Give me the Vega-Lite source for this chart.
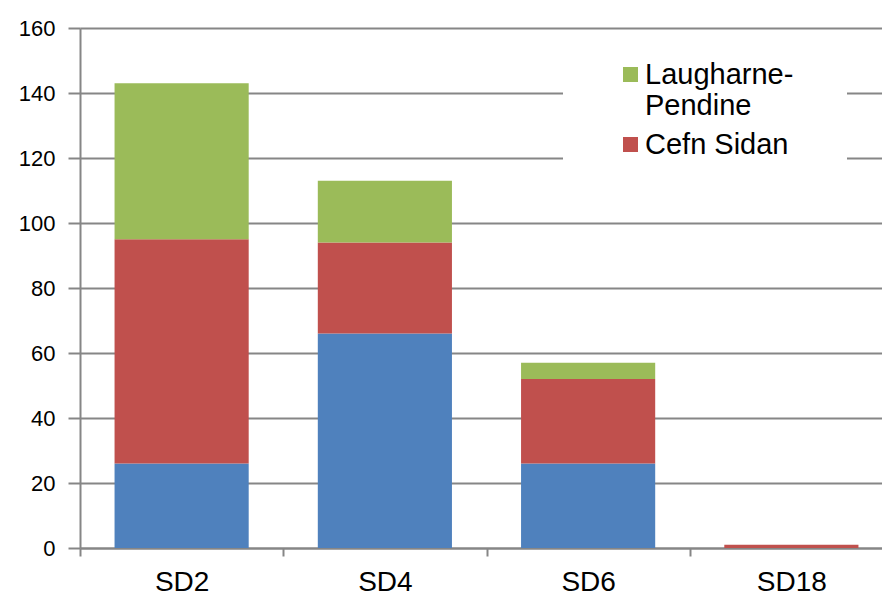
{
  "$schema": "https://vega.github.io/schema/vega-lite/v6.json",
  "width": 802,
  "height": 520,
  "autosize": {"type": "none"},
  "padding": {"left": 80, "top": 28, "right": 0, "bottom": 49},
  "background": "white",
  "config": {"view": {"stroke": null}, "font": "Liberation Sans"},
  "data": {"values": [
    {"site": "SD2", "beach": "Other", "count": 26, "order": 1},
    {"site": "SD2", "beach": "Cefn Sidan", "count": 69, "order": 2},
    {"site": "SD2", "beach": "Laugharne-Pendine", "count": 48, "order": 3},
    {"site": "SD4", "beach": "Other", "count": 66, "order": 1},
    {"site": "SD4", "beach": "Cefn Sidan", "count": 28, "order": 2},
    {"site": "SD4", "beach": "Laugharne-Pendine", "count": 19, "order": 3},
    {"site": "SD6", "beach": "Other", "count": 26, "order": 1},
    {"site": "SD6", "beach": "Cefn Sidan", "count": 26, "order": 2},
    {"site": "SD6", "beach": "Laugharne-Pendine", "count": 5, "order": 3},
    {"site": "SD18", "beach": "Other", "count": 0, "order": 1},
    {"site": "SD18", "beach": "Cefn Sidan", "count": 1, "order": 2},
    {"site": "SD18", "beach": "Laugharne-Pendine", "count": 0, "order": 3}
  ]},
  "mark": {"type": "bar"},
  "encoding": {
    "x": {
      "field": "site", "type": "nominal", "sort": ["SD2", "SD4", "SD6", "SD18"],
      "scale": {"range": [0, 813], "paddingInner": 0.34, "paddingOuter": 0.17},
      "axis": {"title": null, "labelAngle": 0, "labelFontSize": 28, "labelColor": "#000",
        "domainColor": "#868686", "domainWidth": 2, "tickColor": "#868686", "tickWidth": 2,
        "tickSize": 8, "tickOffset": -101.6, "labelOffset": 101.6, "labelPadding": 12, "grid": false}
    },
    "y": {
      "field": "count", "type": "quantitative", "stack": "zero",
      "scale": {"domain": [0, 160], "nice": false},
      "axis": {"title": null, "values": [0, 20, 40, 60, 80, 100, 120, 140, 160], "grid": true,
        "gridColor": "#868686", "gridWidth": 2, "domainColor": "#868686", "domainWidth": 2,
        "tickColor": "#868686", "tickWidth": 2, "tickSize": 12, "labelFontSize": 22,
        "labelColor": "#000", "labelPadding": 13}
    },
    "color": {
      "field": "beach", "type": "nominal",
      "scale": {"domain": ["Laugharne-Pendine", "Cefn Sidan", "Other"], "range": ["#9BBB59", "#C0504D", "#4F81BD"]},
      "legend": {
        "values": ["Laugharne-Pendine", "Cefn Sidan"],
        "orient": "none", "legendX": 483, "legendY": 18,
        "fillColor": "white", "padding": 14,
        "symbolType": "square", "symbolSize": 225, "symbolOffset": 39, "symbolStrokeWidth": 0,
        "labelFontSize": 29, "labelColor": "#000", "labelOffset": 0, "labelLimit": 300,
        "labelExpr": "datum.label == 'Laugharne-Pendine' ? ['Laugharne-', 'Pendine'] : datum.label",
        "title": " ", "titleOrient": "right", "titlePadding": 40, "rowPadding": 9
      }
    },
    "order": {"field": "order", "type": "quantitative"}
  }
}
